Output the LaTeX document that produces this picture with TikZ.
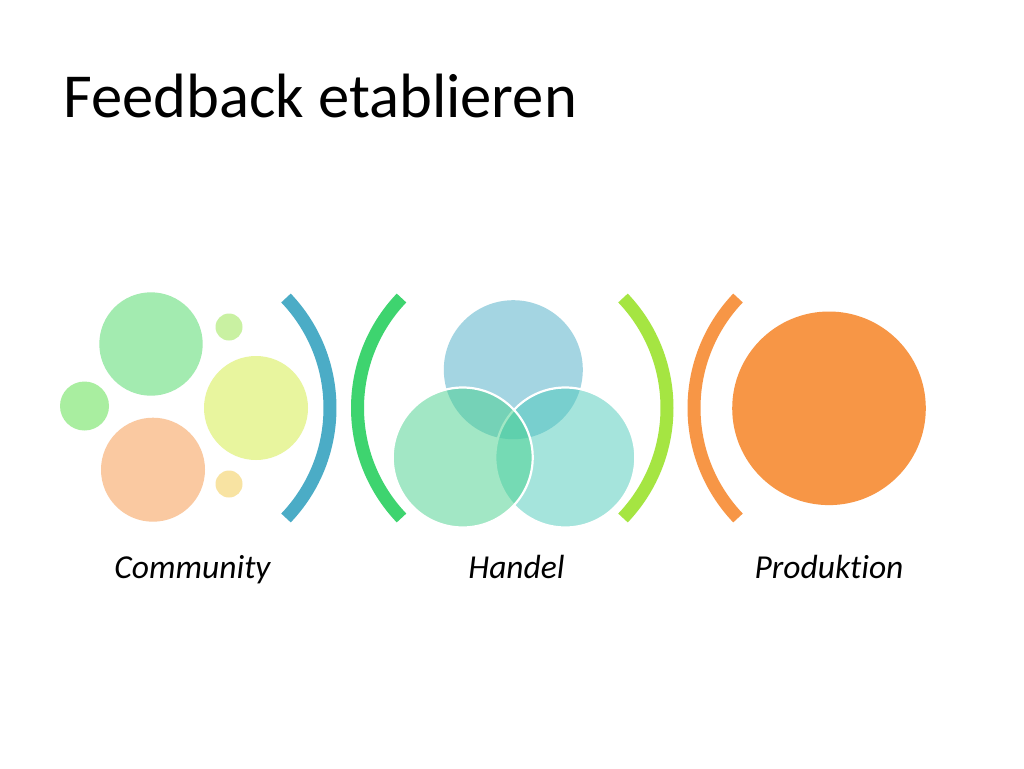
\documentclass[tikz,border=0pt]{standalone}
\usepackage{fontspec}
\setmainfont{Carlito}[Ligatures=NoCommon]
\usetikzlibrary{calc}
\definecolor{bAqua}{HTML}{4BACC6}
\definecolor{bGreen}{HTML}{3ED46F}
\definecolor{bLime}{HTML}{A5E542}
\definecolor{bOrange}{HTML}{F79646}
\definecolor{cBigGreen}{HTML}{A3EBB0}
\definecolor{cSmallGreen}{HTML}{C9F1A2}
\definecolor{cLeftGreen}{HTML}{A9EEA0}
\definecolor{cYellow}{HTML}{E8F59E}
\definecolor{cPeach}{HTML}{FAC9A1}
\definecolor{cSand}{HTML}{F8E3A2}
\definecolor{vBlue}{HTML}{4BACC6}
\definecolor{vGreen}{HTML}{47D18D}
\definecolor{vTeal}{HTML}{4DCBBB}
\tikzset{
  bracket/.style={line width=13pt, line cap=butt},
  dot/.style={circle, inner sep=0pt, draw=none},
  venn/.style={fill opacity=0.5, draw=white, line width=2.2pt, draw opacity=1},
  label/.style={font=\fontsize{33.5}{40}\selectfont\itshape, anchor=base, inner sep=0pt},
}
\begin{document}
\begin{tikzpicture}[x=1pt,y=-1pt]
\useasboundingbox[fill=white] (0,0) rectangle (1024,768);
\node[anchor=base west, inner sep=0pt, font=\fontsize{62.6}{70}\selectfont] (title) at (63,117) {Feedback etablieren};
% Community cluster
\node[dot, fill=cBigGreen, minimum size=103.4pt] (c1) at (151,344) {};
\node[dot, fill=cSmallGreen, minimum size=27pt] (c2) at (229,327) {};
\node[dot, fill=cLeftGreen, minimum size=49pt] (c3) at (84.5,406) {};
\node[dot, fill=cYellow, minimum size=104pt] (c4) at (256,408) {};
\node[dot, fill=cPeach, minimum size=104pt] (c5) at (153,469.7) {};
\node[dot, fill=cSand, minimum size=27pt] (c6) at (229,484) {};
% brackets
\coordinate (bc1) at (170.5,408);
\draw[bracket, draw=bAqua] ($(bc1)+(-43.6:159.5)$) arc[start angle=-43.6, end angle=43.6, radius=159.5];
\coordinate (bc2) at (517,408);
\draw[bracket, draw=bGreen] ($(bc2)+(136.4:159.5)$) arc[start angle=136.4, end angle=223.6, radius=159.5];
\coordinate (bc3) at (507.5,408);
\draw[bracket, draw=bLime] ($(bc3)+(-43.6:159.5)$) arc[start angle=-43.6, end angle=43.6, radius=159.5];
\coordinate (bc4) at (853.5,408);
\draw[bracket, draw=bOrange] ($(bc4)+(136.4:159.5)$) arc[start angle=136.4, end angle=223.6, radius=159.5];
% Venn
\fill[vBlue, fill opacity=0.5] (513.3,369.7) circle[radius=69.5];
\filldraw[venn, fill=vTeal] (565.3,457.5) circle[radius=70];
\filldraw[venn, fill=vGreen] (462.7,457.5) circle[radius=70];
% Produktion
\node[dot, fill=bOrange, minimum size=193.6pt] (p1) at (829,408.3) {};
% labels
\node[label] (l1) at (192.5,578.5) {Community};
\node[label] (l2) at (516.5,578.5) {Handel};
\node[label] (l3) at (829,578.5) {Produktion};
\end{tikzpicture}
\end{document}
